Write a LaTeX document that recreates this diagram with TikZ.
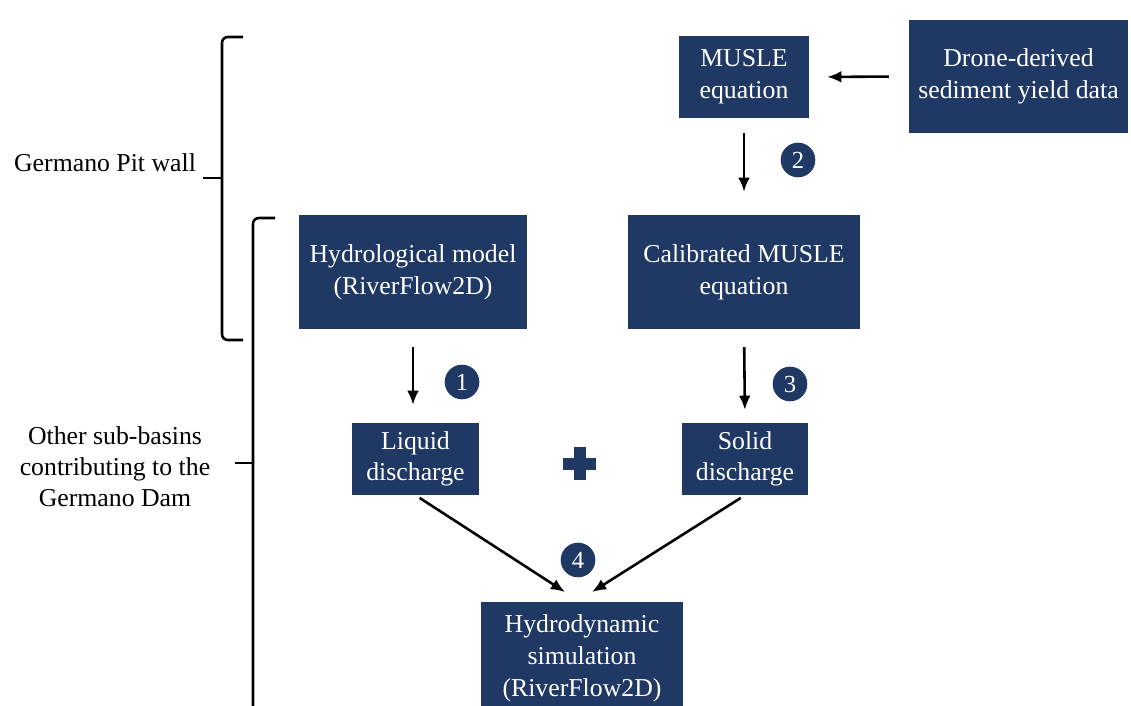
\documentclass[tikz,border=0pt]{standalone}
\usepackage{fontspec}
\setmainfont{Liberation Serif}
\usetikzlibrary{arrows.meta,positioning,calc}
\definecolor{navy}{HTML}{203864}

\begin{document}
\begin{tikzpicture}[x=0.03cm,y=-0.03cm,>={Latex[length=12pt,width=10pt]},
 font=\fontsize{22}{27}\selectfont,
 box/.style={fill=navy,text=white,align=center,inner sep=0pt},
 num/.style={circle,fill=navy,text=white,minimum size=1.04cm,inner sep=0pt,font=\fontsize{21}{25}\selectfont},
 flow/.style={->,line width=2.2pt},
 brace/.style={line width=2.2pt,rounded corners=5pt}]
\useasboundingbox (0,0) rectangle (1131,705);
% boxes
\node[box,minimum width=3.9cm,minimum height=2.46cm] (musle) at (744,77) {MUSLE\\equation};
\node[box,minimum width=6.57cm,minimum height=3.39cm] (drone) at (1018.5,76.5) {Drone-derived\\sediment yield data};
\node[box,minimum width=6.96cm,minimum height=3.42cm] (calib) at (744,272) {Calibrated MUSLE\\equation};
\node[box,minimum width=6.84cm,minimum height=3.42cm] (hydro) at (413,272) {Hydrological model\\(RiverFlow2D)};
\node[box,minimum width=3.81cm,minimum height=2.16cm] (liquid) at (415.5,459) {Liquid\\discharge};
\node[box,minimum width=3.78cm,minimum height=2.16cm] (solid) at (745,459) {Solid\\discharge};
\node[box,minimum width=6.06cm,minimum height=3.36cm,anchor=north] (hydrodyn) at (582,602) {Hydrodynamic\\simulation\\(RiverFlow2D)};
% step numbers
\node[num] (n1) at (462,382) {1};
\node[num] (n2) at (798,160) {2};
\node[num] (n3) at (790,384) {3};
\node[num] (n4) at (578,560) {4};
% plus sign
\fill[navy] (563,458) rectangle (596,470);
\fill[navy] (574,447) rectangle (586,480);
% arrows
\draw[flow,shorten <=0.6cm,shorten >=0.54cm] (drone.west) -- (musle.east);
\draw[flow,shorten <=0.45cm,shorten >=0.69cm] (musle.south) -- (calib.north);
\draw[flow,shorten <=0.54cm,shorten >=0.54cm] (hydro.south) -- (hydro.south |- liquid.north);
\draw[flow,shorten <=0.54cm,shorten >=0.39cm] (calib.south) -- (solid.north);
\coordinate (inL) at (565,592);
\coordinate (inR) at (592,592);
\draw[flow,shorten <=0.15cm] (liquid.south) -- (inL);
\draw[flow,shorten <=0.15cm] (solid.south) -- (inR);
% braces and labels
\node[anchor=west] (pit) at (10,163) {Germano Pit wall};
\node[align=center,font=\fontsize{22}{26.5}\selectfont] (others) at (115,467) {Other sub-basins\\contributing to the\\Germano Dam};
\draw[brace] (243,37) -- (222,37) -- (222,340) -- (243,340);
\draw[line width=2.2pt] (222,178) -- (203,178);
\draw[brace] (275,218) -- (253,218) -- (253,720);
\draw[line width=2.2pt] (253,463) -- (235,463);
\end{tikzpicture}
\end{document}
